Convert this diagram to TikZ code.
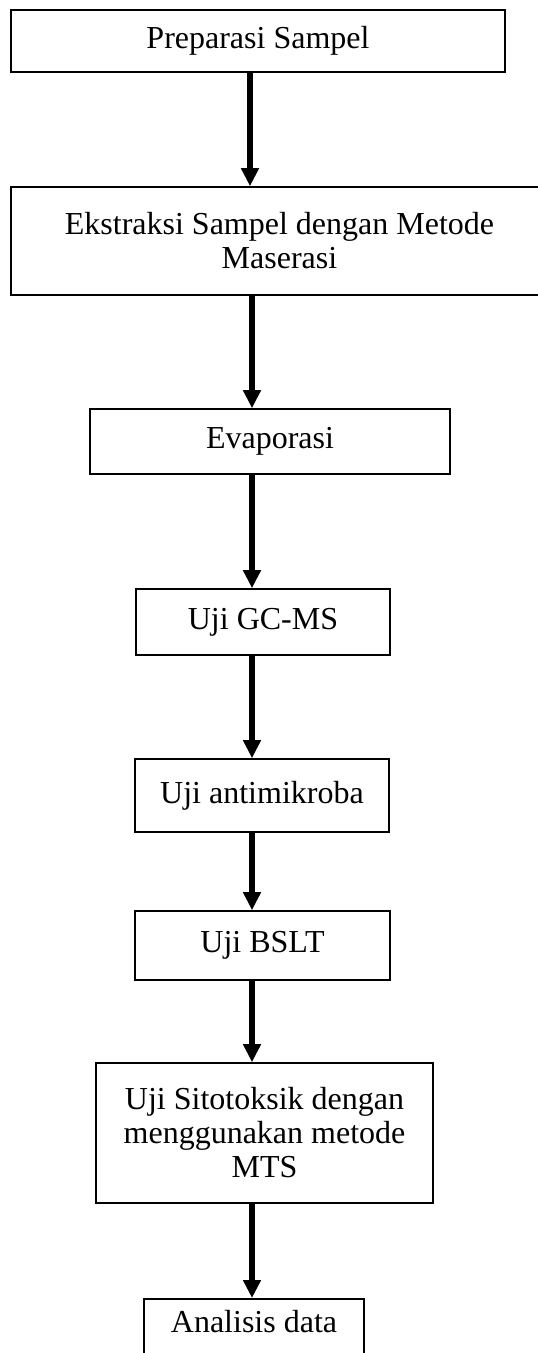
\documentclass[tikz,border=0pt]{standalone}
\usepackage{fontspec}
\setmainfont{Liberation Serif}
\usetikzlibrary{arrows.meta}
\begin{document}
\begin{tikzpicture}[x=1pt,y=-1pt,
  box/.style={draw=black, line width=1.6pt, rectangle, inner sep=0pt, align=center,
    font=\fontsize{32}{34}\selectfont},
  arr/.style={line width=5.5pt, -{Triangle[width=17pt,length=18pt]}}]
\clip (0,0) rectangle (538,1353);
\fill[white] (0,0) rectangle (538,1353);
\coordinate (a1) at (250,0);
\coordinate (ax) at (252,0);
\node[box, minimum width=494pt, minimum height=62pt] (n1) at (258,41) {Preparasi Sampel};
\node[box, minimum width=537pt, minimum height=108pt] (n2) at (279.5,241) {Ekstraksi Sampel dengan Metode\\Maserasi};
\node[box, minimum width=360pt, minimum height=65pt] (n3) at (270,441.5) {Evaporasi};
\node[box, minimum width=254pt, minimum height=66pt] (n4) at (263,622) {Uji GC-MS};
\node[box, minimum width=254pt, minimum height=73pt] (n5) at (262,795.5) {Uji antimikroba};
\node[box, minimum width=255pt, minimum height=69pt] (n6) at (262.5,945.5) {Uji BSLT};
\node[box, minimum width=337pt, minimum height=140pt] (n7) at (264.5,1133) {Uji Sitotoksik dengan\\menggunakan metode\\MTS};
\node[box, minimum width=220pt, anchor=north, text height=34pt, text depth=40pt] (n8) at (254,1298) {Analisis data};
\draw[arr] (n1.south -| a1) -- (n2.north -| a1);
\draw[arr] (n2.south -| ax) -- (n3.north -| ax);
\draw[arr] (n3.south -| ax) -- (n4.north -| ax);
\draw[arr] (n4.south -| ax) -- (n5.north -| ax);
\draw[arr] (n5.south -| ax) -- (n6.north -| ax);
\draw[arr] (n6.south -| ax) -- (n7.north -| ax);
\draw[arr] (n7.south -| ax) -- (n8.north -| ax);
\end{tikzpicture}
\end{document}
